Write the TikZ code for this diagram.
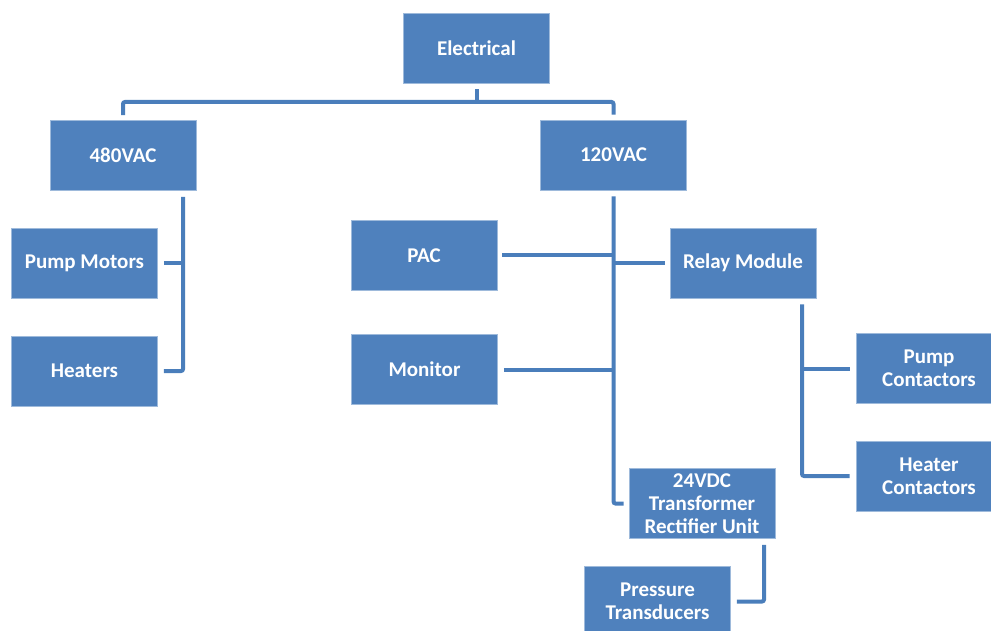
\documentclass[tikz,border=0pt]{standalone}
\usepackage{fontspec}
\setmainfont{Carlito}
\definecolor{boxblue}{HTML}{4F81BD}
\definecolor{lineblue}{HTML}{4A7EBB}
\begin{document}
\begin{tikzpicture}[x=1pt,y=-1pt,
  box/.style={fill=boxblue,draw=boxblue!55!white,line width=0.6pt,minimum width=146pt,minimum height=70pt,inner sep=0pt,
    text=white,font=\fontsize{21}{23}\selectfont\bfseries,align=center},
  conn/.style={draw=lineblue,line width=4pt,rounded corners=2pt}]
\useasboundingbox (0,0) rectangle (991,631);
\node[box] (elec) at (476.5,48) {Electrical};
\node[box] (v480) at (123,155.5) {480VAC};
\node[box] (v120) at (613.5,155) {120VAC};
\node[box] (pm) at (84.5,263) {Pump Motors};
\node[box] (heat) at (84.5,371) {Heaters};
\node[box] (pac) at (424,255.5) {PAC};
\node[box] (mon) at (424.5,369.5) {Monitor};
\node[box] (relay) at (743,263) {Relay Module};
\node[box] (pcon) at (929,368.5) {Pump\\Contactors};
\node[box] (hcon) at (929,476) {Heater\\Contactors};
\node[box] (tru) at (702,503.5) {24VDC\\Transformer\\Rectifier Unit};
\node[box] (pt) at (657.5,601.5) {Pressure\\Transducers};
% top bus
\coordinate (bus) at (0,102);
\draw[conn] ([yshift=5pt]v480.north) |- (bus -| v120.north) -- ([yshift=5pt]v120.north);
\draw[conn] ([yshift=-6pt]elec.south) -- (elec.south |- bus);
% 480VAC branch
\coordinate (t480) at ([xshift=60pt,yshift=-6pt]v480.south);
\draw[conn] (t480) |- ([xshift=6pt]heat.east);
\draw[conn] ([xshift=6pt]pm.east) -- (pm.east -| t480);
% 120VAC branch
\coordinate (t120) at ([yshift=-6pt]v120.south);
\draw[conn] (t120) |- ([xshift=-5pt]tru.west);
\draw[conn] ([xshift=5pt]pac.east) -- (pac.east -| t120);
\draw[conn] ([xshift=-5pt]relay.west) -- (relay.west -| t120);
\draw[conn] ([xshift=6pt]mon.east) -- (mon.east -| t120);
% relay branch
\coordinate (trel) at ([xshift=59pt,yshift=-6pt]relay.south);
\draw[conn] (trel) |- ([xshift=-6pt]hcon.west);
\draw[conn] ([xshift=-6pt]pcon.west) -- (pcon.west -| trel);
% TRU branch
\coordinate (ttru) at ([xshift=62pt,yshift=-6pt]tru.south);
\draw[conn] (ttru) |- ([xshift=6pt]pt.east);
\end{tikzpicture}
\end{document}
